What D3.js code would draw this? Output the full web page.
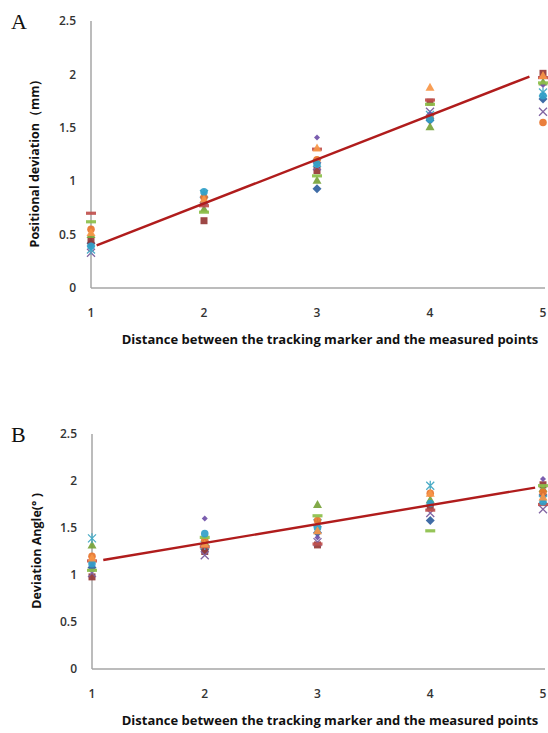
<!DOCTYPE html>
<html>
<head>
<meta charset="utf-8">
<script src="https://cdn.jsdelivr.net/npm/d3@7"></script>
<style>
  body { margin: 0; background: #fff; }
  svg text { font-family: "Open Sans", "DejaVu Sans", sans-serif; }
</style>
</head>
<body>
<div id="chart"></div>
<script>
const width = 548, height = 733;

// distances (x categories)
const distances = [1, 2, 3, 4, 5];
const yTicks = [0, 0.5, 1, 1.5, 2, 2.5];

// marker look per series (Excel-like defaults)
const seriesStyle = [
  {shape: 'diamond', color: '#2f5f9e'},
  {shape: 'square', color: '#953735'},
  {shape: 'triangle', color: '#77a33a'},
  {shape: 'x', color: '#8064a2'},
  {shape: 'star', color: '#4bacc6'},
  {shape: 'circle', color: '#e8742c'},
  {shape: 'smalldiamond', color: '#7050a8'},
  {shape: 'dash', color: '#c0504d'},
  {shape: 'dash', color: '#8cbf4a'},
  {shape: 'circle', color: '#31a0c8'},
  {shape: 'triangle', color: '#f79646'}
];

// panel A: positional deviation (mm), one array per series
const posDev = [
  [0.42, 0.80, 0.93, 1.57, 1.77],
  [0.44, 0.63, 1.10, 1.74, 2.01],
  [0.50, 0.74, 1.01, 1.51, 1.93],
  [0.33, 0.82, 1.14, 1.65, 1.65],
  [0.36, 0.88, 1.17, 1.62, 1.83],
  [0.55, 0.85, 1.20, 1.60, 1.55],
  [0.40, 0.78, 1.41, 1.63, 1.90],
  [0.70, 0.77, 1.30, 1.76, 1.97],
  [0.62, 0.71, 1.05, 1.72, 1.92],
  [0.39, 0.90, 1.16, 1.58, 1.80],
  [0.52, 0.83, 1.31, 1.88, 1.99]
];
const posTrend = [[1.05, 0.40], [4.88, 1.98]];

// panel B: deviation angle (deg)
const angDev = [
  [1.08, 1.27, 1.45, 1.58, 1.85],
  [0.98, 1.25, 1.32, 1.72, 1.96],
  [1.32, 1.35, 1.75, 1.80, 1.92],
  [1.02, 1.21, 1.35, 1.66, 1.70],
  [1.39, 1.32, 1.55, 1.95, 1.80],
  [1.20, 1.37, 1.58, 1.87, 1.88],
  [1.12, 1.60, 1.40, 1.75, 2.02],
  [1.15, 1.30, 1.33, 1.69, 1.75],
  [1.05, 1.40, 1.63, 1.47, 1.95],
  [1.12, 1.44, 1.50, 1.76, 1.78],
  [1.18, 1.33, 1.47, 1.87, 1.83]
];
const angTrend = [[1.1, 1.16], [4.93, 1.93]];

const xTitle = 'Distance between the tracking marker and the measured points';

const svg = d3.select('#chart').append('svg')
  .attr('width', width).attr('height', height);

const markerPath = (shape) => {
  const s = 7;
  switch (shape) {
    case 'diamond': return `M0,${-s/2-1}L${s/2+1},0L0,${s/2+1}L${-s/2-1},0Z`;
    case 'smalldiamond': return `M0,-3L3,0L0,3L-3,0Z`;
    case 'square': return `M${-s/2},${-s/2}h${s}v${s}h${-s}Z`;
    case 'triangle': return `M0,${-s/2-1}L${s/2+1},${s/2}L${-s/2-1},${s/2}Z`;
    case 'circle': return d3.symbol(d3.symbolCircle, 45)();
    case 'dash': return `M-5,-1.6h10v3.2h-10Z`;
    default: return null;
  }
};

function drawPoint(g, shape, color, x, y) {
  if (shape === 'x' || shape === 'star') {
    const r = 4;
    let d = `M${-r},${-r}L${r},${r}M${-r},${r}L${r},${-r}`;
    if (shape === 'star') d += `M0,${-r-1}V${r+1}`;
    g.append('path').attr('d', d).attr('transform', `translate(${x},${y})`)
      .attr('stroke', color).attr('stroke-width', 1.3).attr('fill', 'none');
  } else {
    g.append('path').attr('d', markerPath(shape))
      .attr('transform', `translate(${x},${y})`)
      .attr('fill', color).attr('fill-opacity', 0.92);
  }
}

function drawPanel(cfg) {
  const x = d3.scaleLinear().domain([1, 5]).range([cfg.left, cfg.right]);
  const y = d3.scaleLinear().domain([0, 2.5]).range([cfg.bottom, cfg.top]);
  const g = svg.append('g');

  // axis lines
  g.append('line').attr('x1', x(1)).attr('x2', x(1))
    .attr('y1', y(2.5)).attr('y2', y(0))
    .attr('stroke', '#a6a6a6').attr('stroke-width', 1.5);
  g.append('line').attr('x1', x(1)).attr('x2', x(5) + 2)
    .attr('y1', y(0)).attr('y2', y(0))
    .attr('stroke', '#a6a6a6').attr('stroke-width', 1.5);

  // tick labels
  g.selectAll('.yt').data(yTicks).enter().append('text')
    .attr('x', cfg.left - 15).attr('y', d => y(d)).attr('dy', '0.35em')
    .attr('text-anchor', 'end').attr('font-size', 12).attr('font-weight', 600)
    .attr('fill', '#333').text(d => d);
  g.selectAll('.xt').data(distances).enter().append('text')
    .attr('x', d => x(d)).attr('y', cfg.bottom + 25).attr('dy', '0.35em')
    .attr('text-anchor', 'middle').attr('font-size', 12).attr('font-weight', 600)
    .attr('fill', '#333').text(d => d);

  // titles
  g.append('text').attr('x', 330).attr('y', cfg.bottom + 51).attr('dy', '0.35em')
    .attr('text-anchor', 'middle').attr('font-size', 13).attr('font-weight', 700)
    .attr('fill', '#111').text(xTitle);
  g.append('text')
    .attr('transform', `translate(${cfg.ytX},${cfg.ytY}) rotate(-90)`)
    .attr('text-anchor', 'middle').attr('dy', '0.35em')
    .attr('font-size', 12.5).attr('font-weight', 700).attr('fill', '#111')
    .text(cfg.yTitle);
  g.append('text').attr('x', 11).attr('y', cfg.top + 8)
    .style('font-family', '"Liberation Serif", "DejaVu Serif", serif')
    .attr('font-size', 22).attr('fill', '#111').text(cfg.letter);

  // points
  const pg = g.append('g');
  cfg.data.forEach((vals, i) => {
    const st = seriesStyle[i];
    vals.forEach((v, j) => drawPoint(pg, st.shape, st.color, x(distances[j]), y(v)));
  });

  // trend line
  g.append('path')
    .attr('d', d3.line().x(d => x(d[0])).y(d => y(d[1]))(cfg.trend))
    .attr('stroke', '#b01c1c').attr('stroke-width', 2.4).attr('fill', 'none');
}

drawPanel({
  letter: 'A', data: posDev, trend: posTrend,
  left: 91, right: 543, top: 21, bottom: 288,
  yTitle: 'Positional deviation（mm）', ytX: 35, ytY: 160
});
drawPanel({
  letter: 'B', data: angDev, trend: angTrend,
  left: 92, right: 543, top: 434, bottom: 669,
  yTitle: 'Deviation Angle(° )', ytX: 37, ytY: 551
});
</script>
</body>
</html>
